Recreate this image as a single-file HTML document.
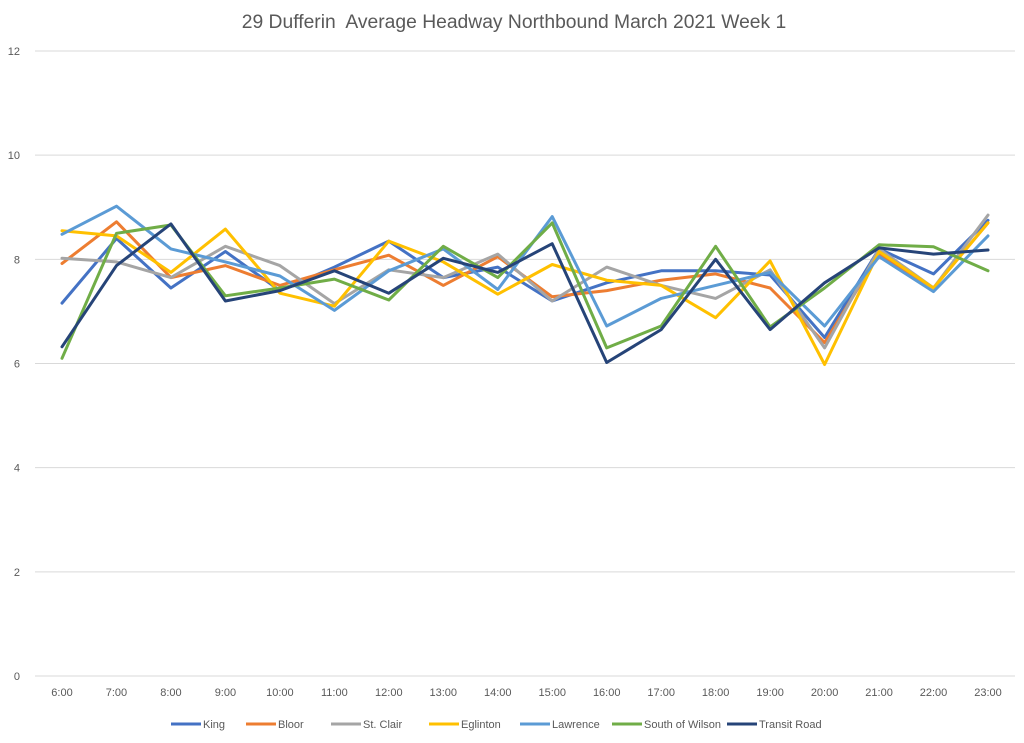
<!DOCTYPE html>
<html><head><meta charset="utf-8"><style>
body{margin:0;background:#fff;font-family:"Liberation Sans",Calibri,sans-serif}
svg text{font-family:"Liberation Sans",sans-serif}
</style></head><body>
<svg id="chart" width="1024" height="738">
<text x="514" y="28" text-anchor="middle" font-size="19.3" fill="#595959">29 Dufferin&#160; Average Headway Northbound March 2021 Week 1</text>
<g id="grid"></g><g id="xaxis"></g><g id="series"></g><g id="legend"></g>
</svg>
<script>
const categories=["6:00","7:00","8:00","9:00","10:00","11:00","12:00","13:00","14:00","15:00","16:00","17:00","18:00","19:00","20:00","21:00","22:00","23:00"];
const yTicks=[0,2,4,6,8,10,12];
const seriesNames=["King","Bloor","St. Clair","Eglinton","Lawrence","South of Wilson","Transit Road"];
const seriesColors=["#4472C4","#ED7D31","#A5A5A5","#FFC000","#5B9BD5","#70AD47","#264478"];
const king=[7.16,8.4,7.45,8.15,7.4,7.85,8.35,7.65,7.85,7.2,7.55,7.78,7.78,7.7,6.5,8.2,7.72,8.75];
const bloor=[7.92,8.72,7.65,7.88,7.5,7.8,8.08,7.5,8.05,7.28,7.4,7.6,7.72,7.45,6.4,8.1,7.45,8.7];
const stClair=[8.02,7.95,7.65,8.25,7.88,7.15,7.8,7.65,8.1,7.2,7.85,7.5,7.25,7.8,6.3,8.2,7.45,8.85];
const eglinton=[8.55,8.45,7.75,8.58,7.35,7.1,8.35,7.95,7.33,7.9,7.6,7.5,6.88,7.97,5.98,8.15,7.45,8.7];
const lawrence=[8.48,9.02,8.2,7.95,7.68,7.02,7.78,8.2,7.42,8.82,6.72,7.25,7.5,7.75,6.72,8.05,7.38,8.45];
const southOfWilson=[6.1,8.5,8.66,7.3,7.45,7.62,7.22,8.25,7.65,8.7,6.3,6.72,8.25,6.7,7.45,8.28,8.24,7.78];
const transitRoad=[6.32,7.88,8.68,7.2,7.4,7.78,7.35,8.02,7.75,8.3,6.02,6.65,8.0,6.65,7.55,8.22,8.1,8.18];
const allSeries=[king,bloor,stClair,eglinton,lawrence,southOfWilson,transitRoad];
const NS="http://www.w3.org/2000/svg";
const x0=62,x1=988,yBase=676,yTop=51,yMax=12;
function xScale(i){return x0+i*(x1-x0)/(categories.length-1);}
function yScale(v){return yBase-(v/yMax)*(yBase-yTop);}
function mk(tag,attrs,parent){const e=document.createElementNS(NS,tag);for(const k in attrs)e.setAttribute(k,attrs[k]);parent.appendChild(e);return e;}
const grid=document.getElementById('grid');
yTicks.forEach(t=>{
  const l=mk('line',{x1:35,x2:1015,y1:yScale(t),y2:yScale(t),stroke:'#d9d9d9','stroke-width':1},grid);
  
  
  const tx=mk('text',{x:20,y:yScale(t)+4,'text-anchor':'end','font-size':11,fill:'#595959'},grid);
  tx.textContent=t;
  
  
});
const xa=document.getElementById('xaxis');
categories.forEach((c,i)=>{
  const tx=mk('text',{x:xScale(i),y:696,'text-anchor':'middle','font-size':11,fill:'#595959'},xa);
  tx.textContent=c;
  
  
});
const sg=document.getElementById('series');
allSeries.forEach((s,k)=>{
  const pts=s.map((v,i)=>xScale(i).toFixed(1)+','+yScale(v).toFixed(1)).join(' ');
  const p=mk('polyline',{points:pts,fill:'none',stroke:seriesColors[k],'stroke-width':3,'stroke-linejoin':'round','stroke-linecap':'round'},sg);
  
  
});
const lg=document.getElementById('legend');
const lx=[171,246,331,429,520,612,727];
seriesNames.forEach((n,k)=>{
  const g=mk('g',{},lg);
  
  
  mk('line',{x1:lx[k],x2:lx[k]+30,y1:724,y2:724,stroke:seriesColors[k],'stroke-width':3},g);
  const t=mk('text',{x:lx[k]+32,y:728,'font-size':11,fill:'#595959'},g);
  t.textContent=n;
});
</script>
</body></html>
